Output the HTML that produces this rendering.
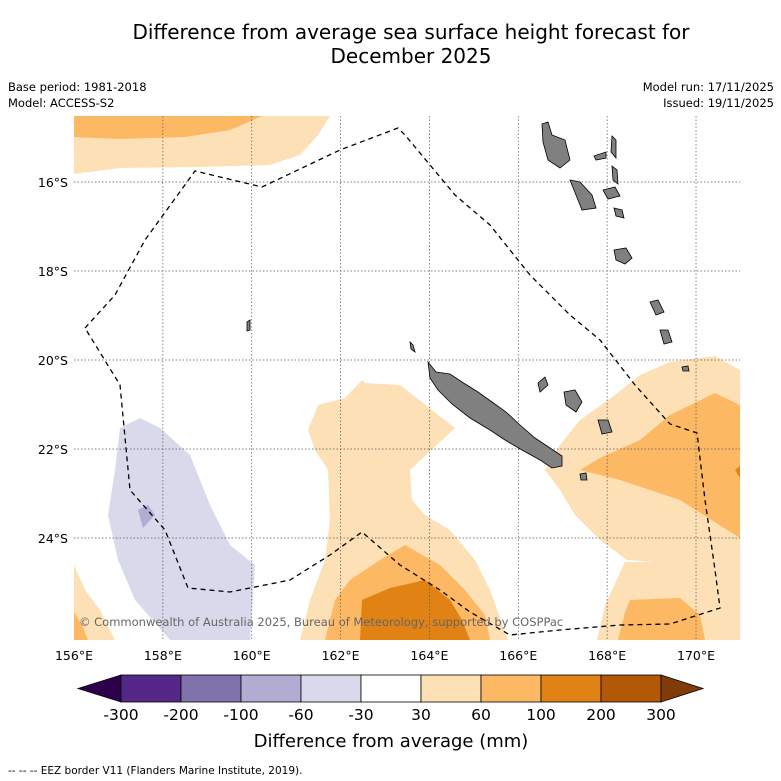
<!DOCTYPE html>
<html><head><meta charset="utf-8"><style>
body{margin:0;background:#fff;font-family:"DejaVu Sans",sans-serif;}
#w{position:relative;width:781px;height:781px;overflow:hidden;}
</style></head><body>
<div id="w">
<svg width="781" height="781" xmlns="http://www.w3.org/2000/svg" id="svg" font-family="DejaVu Sans, sans-serif">
<text x="411" y="39" font-size="20" text-anchor="middle">Difference from average sea surface height forecast for</text>
<text x="411" y="63" font-size="20" text-anchor="middle">December 2025</text>
<text x="8" y="91" font-size="11.5">Base period: 1981-2018</text>
<text x="8" y="107" font-size="11.5">Model: ACCESS-S2</text>
<text x="774" y="91" font-size="11.5" text-anchor="end">Model run: 17/11/2025</text>
<text x="774" y="107" font-size="11.5" text-anchor="end">Issued: 19/11/2025</text>
<defs><clipPath id="mc"><rect x="74" y="116" width="666" height="524"/></clipPath></defs>
<g clip-path="url(#mc)">
<rect x="74" y="116" width="666" height="524" fill="#fff"/>
<g stroke="none">
<polygon fill="#fee0b6" points="74,116 330,116 318,135 300,155 270,165 200,167 120,168 74,174"/>
<polygon fill="#fdb863" points="74,116 262,116 230,130 185,137 120,139 74,137"/>
<polygon fill="#fee0b6" points="362,380 365,383 400,385 455,428 410,470 412,500 425,515 450,530 475,560 490,590 508,640 300,640 310,600 325,560 330,520 328,470 315,450 308,430 318,405 345,398"/>
<polygon fill="#fdb863" points="405,545 440,565 465,590 485,615 490,640 325,640 335,600 350,580 380,560"/>
<polygon fill="#e08214" points="425,580 450,600 462,620 470,640 360,640 362,600 390,588"/>
<polygon fill="#fee0b6" points="740,370 715,356 670,362 640,375 615,395 580,420 560,445 545,470 560,490 575,515 600,540 627,560 740,568"/>
<polygon fill="#fee0b6" points="625,562 715,562 740,565 740,640 597,640 605,605"/>
<polygon fill="#fdb863" points="740,405 715,393 670,415 640,440 600,458 580,470 620,480 680,500 740,538"/>
<polygon fill="#fdb863" points="630,600 680,598 700,615 705,640 618,640 625,612"/>
<polygon fill="#e08214" points="735,470 740,466 740,478"/>
<polygon fill="#fee0b6" points="74,565 85,590 100,610 115,640 74,640"/>
<polygon fill="#fdb863" points="74,612 82,625 88,640 74,640"/>
<polygon fill="#d8daeb" points="120,428 140,418 160,428 190,455 210,505 230,545 255,565 250,640 170,640 135,600 118,560 108,515 115,470"/>
<polygon fill="#b2abd2" points="138,510 148,505 155,515 143,528"/>
</g>
<g stroke="#555" stroke-width="0.7" stroke-dasharray="1.5,2" id="grid"></g>
<g fill="#808080" stroke="#000" stroke-width="0.8">
<polygon points="428,362 436,372 450,374 462,382 478,392 492,402 506,412 520,425 535,438 550,448 562,456 562,466 552,468 540,460 522,450 505,440 490,430 470,418 452,404 438,390 430,378"/>
<polygon points="542,124 548,122 552,135 565,140 570,160 560,168 548,160 543,142"/>
<polygon points="570,180 580,182 592,195 596,208 582,210 576,195"/>
<polygon points="612,136 616,140 616,158 611,152"/>
<polygon points="594,156 606,152 606,158 596,160"/>
<polygon points="603,190 615,187 620,196 608,199"/>
<polygon points="612,166 617,170 618,184 613,180"/>
<polygon points="614,250 626,248 632,258 625,264 616,260"/>
<polygon points="614,208 622,210 624,218 616,216"/>
<polygon points="564,392 575,390 582,402 576,412 566,405"/>
<polygon points="598,420 608,420 612,432 602,434"/>
<polygon points="538,383 545,377 548,385 540,392"/>
<polygon points="580,474 586,473 587,480 581,480"/>
<polygon points="650,302 658,300 664,312 656,315"/>
<polygon points="660,330 668,330 672,342 664,344"/>
<polygon points="682,367 688,366 689,371 683,371"/>
<polygon points="247,322 250,320 250,330 247,331"/>
<polygon points="410,342 413,345 415,352 411,349"/>
</g>
<polyline fill="none" stroke="#000" stroke-width="1.3" stroke-dasharray="5,4" points="85,328 115,295 145,240 195,171 262,187 340,150 398,128 405,135 455,195 490,225 530,275 570,315 600,340 635,385 670,424 697,433 705,500 715,570 720,608 670,624 620,625 560,630 510,635 470,612 440,590 400,565 362,532 330,555 290,580 230,592 188,588 165,530 130,490 120,385 85,328"/>
<text x="79" y="626" font-size="11.5" fill="#666">© Commonwealth of Australia 2025, Bureau of Meteorology, supported by COSPPac</text>
</g>
<g id="axes" font-size="12.5"></g>
<g id="cbar"></g>
<text x="391" y="747" font-size="18" text-anchor="middle">Difference from average (mm)</text>
<text x="8" y="774" font-size="10.5">--  --  -- EEZ border V11 (Flanders Marine Institute, 2019).</text>
</svg>
</div>
<script>
const lonTicks=[156,158,160,162,164,166,168,170];
const latTicks=[16,18,20,22,24];
const levels=["-300","-200","-100","-60","-30","30","60","100","200","300"];
const colors=["#542788","#8073ac","#b2abd2","#d8daeb","#ffffff","#fee0b6","#fdb863","#e08214","#b35806"];
const ns="http://www.w3.org/2000/svg";
const x=lon=>74+(lon-156)*44.43;
const y=lat=>182+(lat-16)*44.5;
function mk(t,a,p){const e=document.createElementNS(ns,t);for(const k in a)e.setAttribute(k,a[k]);p.appendChild(e);return e;}
const grid=document.getElementById('grid'),axes=document.getElementById('axes');
lonTicks.forEach(l=>{
 if(l>156){const g=mk('line',{x1:x(l),x2:x(l),y1:116,y2:640},grid);
 
 }
 const t=mk('text',{x:x(l),y:660,'text-anchor':'middle'},axes);t.textContent=l+'°E';
 
 
});
latTicks.forEach(l=>{
 const g=mk('line',{x1:74,x2:740,y1:y(l),y2:y(l)},grid);
 
 
 const t=mk('text',{x:68,y:y(l)+5,'text-anchor':'end'},axes);t.textContent=l+'°S';
 
 
});
const cb=document.getElementById('cbar');
const x0=121,w=60,y0=675,h=27;
const lt=mk('polygon',{points:`78,${y0+h/2} ${x0},${y0} ${x0},${y0+h}`,fill:'#2d004b',stroke:'#000','stroke-width':0.8},cb);


colors.forEach((c,i)=>{
 const r=mk('rect',{x:x0+i*w,y:y0,width:w,height:h,fill:c,stroke:'#000','stroke-width':0.8},cb);
 
 
});
const xe=x0+colors.length*w;
const rt=mk('polygon',{points:`${xe},${y0} ${xe+42},${y0+h/2} ${xe},${y0+h}`,fill:'#7f3b08',stroke:'#000','stroke-width':0.8},cb);


levels.forEach((l,i)=>{
 const t=mk('text',{x:x0+i*w,y:720,'font-size':15.5,'text-anchor':'middle'},cb);t.textContent=l;
 
 
});
</script>
</body></html>
